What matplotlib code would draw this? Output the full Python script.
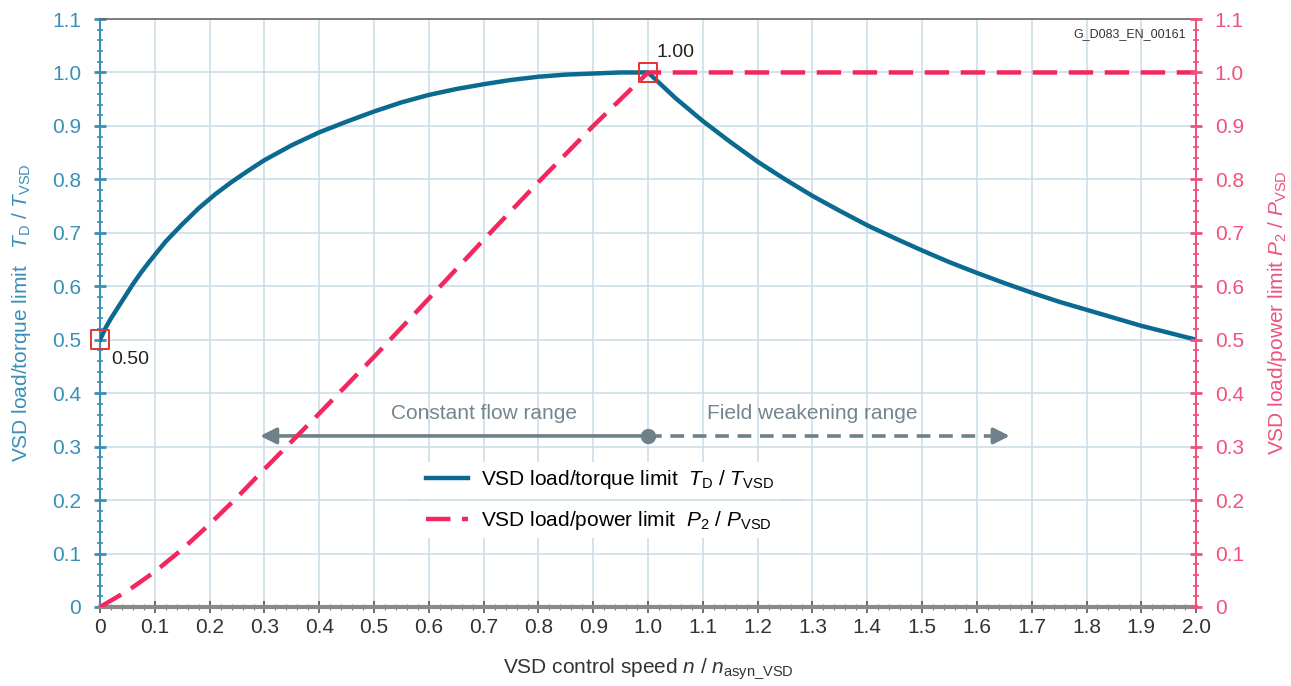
import numpy as np
import matplotlib.pyplot as plt
from matplotlib.ticker import MultipleLocator, FixedFormatter, FixedLocator

plt.rcParams['font.family'] = ['Liberation Sans', 'DejaVu Sans']
plt.rcParams['mathtext.fontset'] = 'custom'
plt.rcParams['mathtext.rm'] = 'Liberation Sans'
plt.rcParams['mathtext.it'] = 'Liberation Sans:italic'

# torque limit T_D / T_VSD
speed_t = [0, 0.01, 0.02, 0.03, 0.045, 0.06, 0.075, 0.09, 0.105, 0.12, 0.15, 0.18, 0.21, 0.24,
           0.27, 0.30, 0.35, 0.40, 0.45, 0.50, 0.55, 0.60, 0.65, 0.70, 0.75, 0.80, 0.85, 0.90,
           0.95, 1.0,
           1.05, 1.1, 1.15, 1.2, 1.25, 1.3, 1.35, 1.4, 1.45, 1.5, 1.55, 1.6, 1.65, 1.7, 1.75,
           1.8, 1.85, 1.9, 1.95, 2.0]
torque = [0.50, 0.522, 0.540, 0.556, 0.580, 0.604, 0.626, 0.646, 0.665, 0.684, 0.716, 0.746,
          0.772, 0.795, 0.816, 0.836, 0.864, 0.888, 0.908, 0.927, 0.944, 0.958, 0.969, 0.978,
          0.986, 0.992, 0.996, 0.998, 1.0, 1.0,
          0.952, 0.909, 0.870, 0.833, 0.800, 0.769, 0.741, 0.714, 0.690, 0.667, 0.645, 0.625,
          0.606, 0.588, 0.571, 0.556, 0.541, 0.526, 0.513, 0.50]

# power limit P_2 / P_VSD
speed_p = [0, 0.05, 0.1, 0.15, 0.2, 0.25, 0.3, 0.35, 0.4, 0.5, 0.6, 0.7, 0.8, 0.9, 1.0, 2.0]
power = [0, 0.03, 0.066, 0.108, 0.155, 0.205, 0.258, 0.31, 0.362, 0.468, 0.577, 0.687, 0.795,
         0.9, 1.0, 1.0]

marked_x = [0, 1.0]
marked_y = [0.5, 1.0]
marked_txt = ['0.50', '1.00']

x_ticks = [round(0.1 * i, 1) for i in range(21)]
x_labels = ['0'] + ['%.1f' % v for v in x_ticks[1:]]
y_ticks = [round(0.1 * i, 1) for i in range(12)]
y_labels = ['0'] + ['%.1f' % v for v in y_ticks[1:]]

blue = '#0b6a90'
blue_lbl = '#3a8fb7'
pink = '#f2275d'
pink_lbl = '#f0517d'
grid_c = '#c9dde7'
gray_arrow = '#6f8088'
fs = 15

fig = plt.figure(figsize=(12.91, 6.86), dpi=100)
ax = fig.add_axes([0.0775, 0.1152, 0.849, 0.8571])
ax.set_xlim(0, 2.0)
ax.set_ylim(0, 1.1)

ax.plot(speed_t, torque, color=blue, lw=3.2, label='VSD load/torque limit  $T_\\mathrm{D}$ / $T_\\mathrm{VSD}$', zorder=4)
ax.plot(speed_p, power, color=pink, lw=3.2, ls=(0, (5.5, 2.6)), label='VSD load/power limit  $P_2$ / $P_\\mathrm{VSD}$', zorder=4)
ax.scatter(marked_x, marked_y, marker='s', s=180, facecolors='none', edgecolors='#e8322c',
           linewidths=1.4, zorder=5, clip_on=False)
ax.text(marked_x[0] + 0.02, marked_y[0] - 0.037, marked_txt[0], fontsize=14, color='#222222', va='center')
ax.text(marked_x[1] + 0.016, marked_y[1] + 0.037, marked_txt[1], fontsize=14, color='#222222', va='center')

# range arrows
ax.annotate('', xy=(0.292, 0.32), xytext=(1.0, 0.32),
            arrowprops=dict(arrowstyle='-|>', color=gray_arrow, lw=2.6, mutation_scale=24, shrinkA=0, shrinkB=0))
ax.plot([1.0, 1.625], [0.32, 0.32], color=gray_arrow, lw=2.6, ls=(0, (3.8, 2.4)))
ax.annotate('', xy=(1.66, 0.32), xytext=(1.63, 0.32),
            arrowprops=dict(arrowstyle='-|>', color=gray_arrow, lw=2.6, mutation_scale=24, shrinkA=0, shrinkB=0))
ax.plot([1.0], [0.32], 'o', color=gray_arrow, ms=10)
ax.text(0.70, 0.362, 'Constant flow range', color='#73858d', fontsize=fs, ha='center', va='center')
ax.text(1.30, 0.362, 'Field weakening range', color='#73858d', fontsize=fs, ha='center', va='center')

ax.text(0.9905, 0.985, 'G_D083_EN_00161', transform=ax.transAxes, ha='right', va='top', fontsize=9, color='#333333')

leg = ax.legend(loc='upper left', bbox_to_anchor=(0.292, 0.2466), frameon=True, fontsize=fs,
                handlelength=2.0, labelspacing=0.85, borderpad=0.3, handletextpad=0.6, borderaxespad=0)
leg.get_frame().set_facecolor('white')
leg.get_frame().set_edgecolor('none')
leg.get_frame().set_alpha(1)
leg.set_zorder(5)
ax.axhline(0.2, xmin=0.28, xmax=0.64, color=grid_c, lw=1.1, zorder=6)

# axes and ticks
ax.xaxis.set_major_locator(FixedLocator(x_ticks))
ax.xaxis.set_major_formatter(FixedFormatter(x_labels))
ax.xaxis.set_minor_locator(MultipleLocator(0.02))
ax.yaxis.set_major_locator(FixedLocator(y_ticks))
ax.yaxis.set_major_formatter(FixedFormatter(y_labels))
ax.yaxis.set_minor_locator(MultipleLocator(0.02))
ax.grid(True, which='major', color=grid_c, lw=1.1, zorder=0)
ax.set_axisbelow(True)

ax.tick_params(axis='x', which='major', direction='inout', length=8, width=1.2, colors='#555555',
               labelsize=fs, labelcolor='#333333', pad=4)
ax.tick_params(axis='x', which='minor', direction='inout', length=5, width=0.8, colors='#777777')
ax.tick_params(axis='y', which='major', direction='inout', length=9, width=2, colors=blue_lbl,
               labelsize=fs, labelcolor=blue_lbl, pad=9)
ax.tick_params(axis='y', which='minor', direction='inout', length=5, width=1.2, colors=blue_lbl)

ax.spines['left'].set_color(blue_lbl)
ax.spines['left'].set_linewidth(1.5)
ax.spines['bottom'].set_color('#8a8a8a')
ax.spines['bottom'].set_linewidth(3)
ax.spines['top'].set_color('#666666')
ax.spines['top'].set_linewidth(1.2)
ax.spines['right'].set_visible(False)

ax2 = ax.twinx()
ax2.set_ylim(0, 1.1)
ax2.yaxis.set_major_locator(FixedLocator(y_ticks))
ax2.yaxis.set_major_formatter(FixedFormatter(y_labels))
ax2.yaxis.set_minor_locator(MultipleLocator(0.02))
ax2.tick_params(axis='y', which='major', direction='inout', length=9, width=2, colors=pink_lbl,
                labelsize=fs, labelcolor=pink_lbl, pad=9)
ax2.tick_params(axis='y', which='minor', direction='inout', length=5, width=1.2, colors=pink_lbl)
for s in ['left', 'top', 'bottom']:
    ax2.spines[s].set_visible(False)
ax2.spines['right'].set_color(pink_lbl)
ax2.spines['right'].set_linewidth(1.5)

ax.set_xlabel('VSD control speed $n$ / $n_\\mathrm{asyn\\_VSD}$', fontsize=fs, color='#333333', labelpad=14)
ax.set_ylabel('VSD load/torque limit   $T_\\mathrm{D}$ / $T_\\mathrm{VSD}$', fontsize=fs, color=blue_lbl, labelpad=14)
ax2.set_ylabel('VSD load/power limit $P_2$ / $P_\\mathrm{VSD}$', fontsize=fs, color=pink_lbl, rotation=90, labelpad=16)

fig.savefig('out.png', dpi=100)
